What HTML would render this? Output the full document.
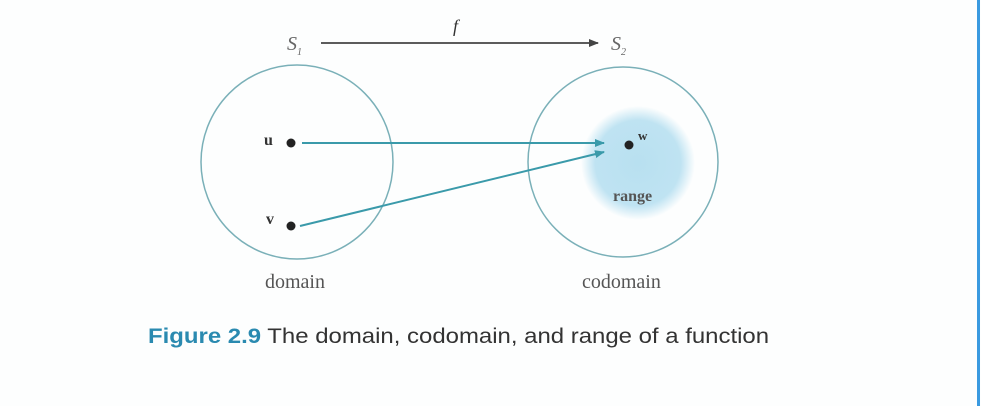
<!DOCTYPE html>
<html><head><style>
body{margin:0;background:#fff;}
.w{position:relative;width:981px;height:406px;overflow:hidden;background:#fdfefe;font-family:"Liberation Serif",serif;}
.t{position:absolute;color:#333;line-height:1;}
</style></head><body><div class="w">
<svg width="981" height="406" style="position:absolute;left:0;top:0">
<defs>
<radialGradient id="g"><stop offset="0" stop-color="#b8e0f0"/><stop offset="0.75" stop-color="#bfe3f2"/><stop offset="1" stop-color="#bfe3f2" stop-opacity="0"/></radialGradient>
<marker id="a" markerWidth="10" markerHeight="8" refX="9" refY="4" orient="auto" markerUnits="userSpaceOnUse"><path d="M0,0 L10,4 L0,8 z" fill="#3a9aaa"/></marker>
<marker id="b" markerWidth="10" markerHeight="8" refX="9" refY="4" orient="auto" markerUnits="userSpaceOnUse"><path d="M0,0 L10,4 L0,8 z" fill="#444"/></marker>
</defs>
<line x1="978.5" y1="0" x2="978.5" y2="406" stroke="#3a9ae0" stroke-width="3"/>
<ellipse cx="297" cy="162" rx="96" ry="97" fill="none" stroke="#7ab0b8" stroke-width="1.5"/>
<ellipse cx="623" cy="162" rx="95" ry="95" fill="none" stroke="#7ab0b8" stroke-width="1.5"/>
<circle cx="638" cy="163" r="57" fill="url(#g)"/>
<line x1="321" y1="43" x2="598" y2="43" stroke="#444" stroke-width="1.8" marker-end="url(#b)"/>
<line x1="302" y1="143" x2="604" y2="143" stroke="#3a9aaa" stroke-width="2" marker-end="url(#a)"/>
<line x1="300" y1="226" x2="604" y2="152" stroke="#3a9aaa" stroke-width="2" marker-end="url(#a)"/>
<circle cx="291" cy="143" r="4.5" fill="#222"/>
<circle cx="291" cy="226" r="4.5" fill="#222"/>
<circle cx="629" cy="145" r="4.5" fill="#222"/>
</svg>
<div class="t" style="left:287px;top:34px;font-size:20px;font-style:italic;color:#666">S<sub style="font-size:10px">1</sub></div>
<div class="t" style="left:611px;top:34px;font-size:20px;font-style:italic;color:#666">S<sub style="font-size:10px">2</sub></div>
<div class="t" style="left:453px;top:17px;font-size:18px;font-style:italic">f</div>
<div class="t" style="left:264px;top:133px;font-size:16px;font-weight:bold">u</div>
<div class="t" style="left:266px;top:212px;font-size:16px;font-weight:bold">v</div>
<div class="t" style="left:638px;top:129px;font-size:13px;font-weight:bold">w</div>
<div class="t" style="left:613px;top:189px;font-size:16px;font-weight:bold;color:#555">range</div>
<div class="t" style="left:265px;top:272px;font-size:20px;color:#555">domain</div>
<div class="t" style="left:582px;top:272px;font-size:20px;color:#555">codomain</div>
<div class="t" style="left:148px;top:326px;font-size:21px;font-family:'Liberation Sans',sans-serif;color:#333;transform-origin:0 0;transform:scaleX(1.14);white-space:nowrap"><b style="color:#2a8ab0">Figure 2.9</b> The domain, codomain, and range of a function</div>
</div></body></html>
